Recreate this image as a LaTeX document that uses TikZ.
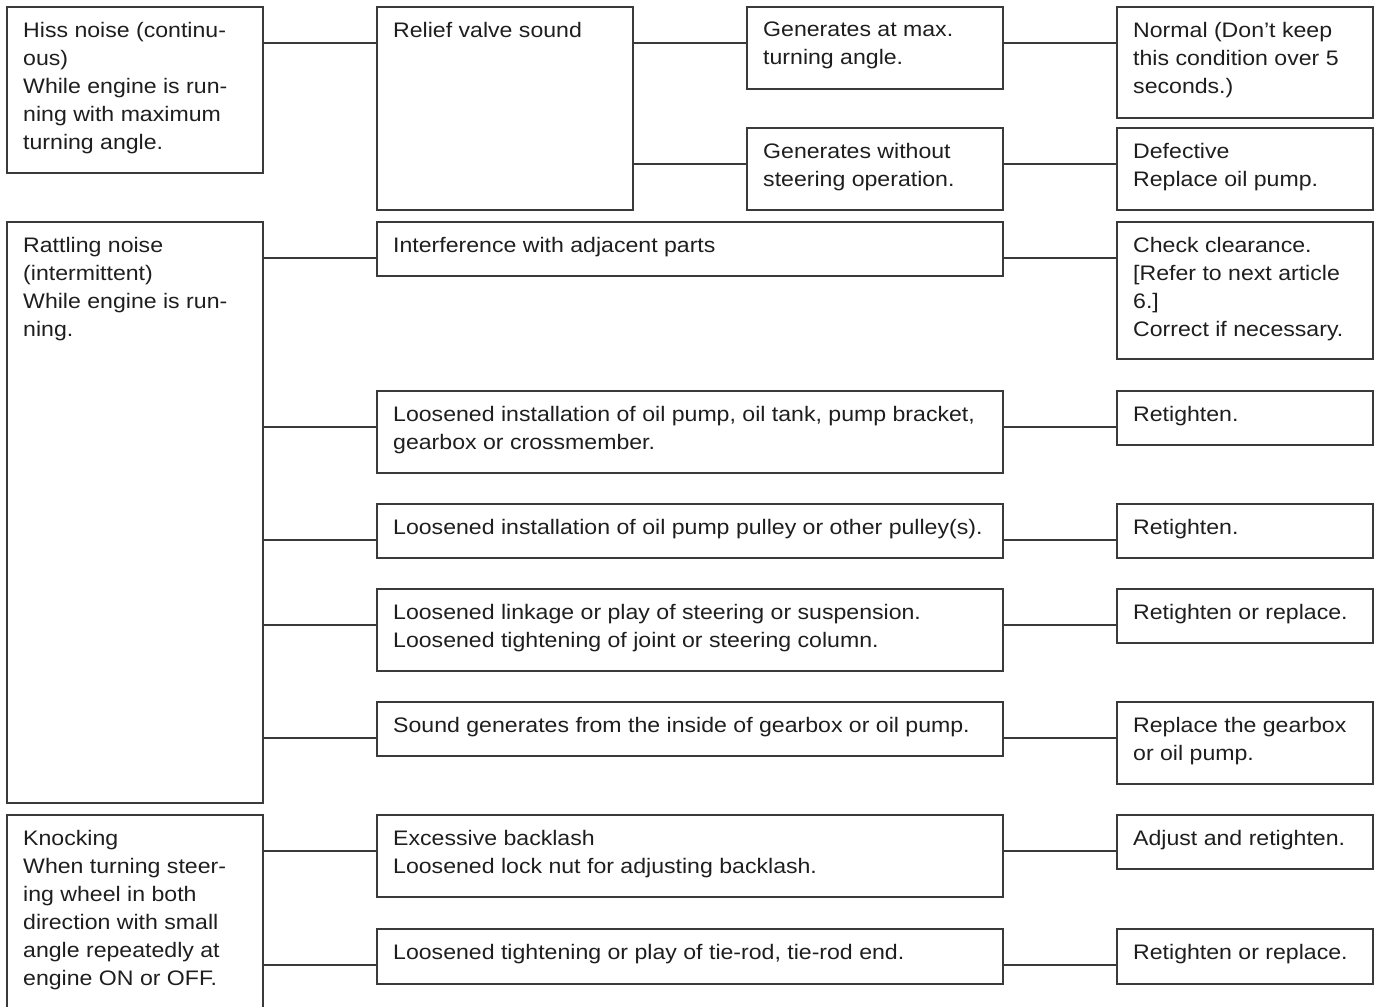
\documentclass[tikz,border=0pt]{standalone}
\usepackage{fontspec}
\setmainfont{Liberation Sans}[FakeStretch=1.1]
\usetikzlibrary{positioning,calc}

\definecolor{linegray}{RGB}{58,58,58}
\definecolor{inkgray}{RGB}{30,30,30}
\newcommand{\boxfont}{\fontsize{21}{28}\selectfont}

\tikzset{
  box/.style={draw=linegray, line width=1.3pt, anchor=north west, inner sep=0pt, outer sep=0pt},
  txt/.style={anchor=north west, inner sep=0pt, align=left, xshift=16pt, yshift=-15pt,
    font=\boxfont, text=inkgray},
  conn/.style={draw=linegray, line width=1.3pt}
}

% line from the side of #1 to the first text line of #2
\newcommand{\link}[2]{%
  \path ([yshift=-36pt]#2.north west) coordinate (#2-in);
  \draw[conn] (#2-in -| #1.east) -- (#2-in);}

\begin{document}
\begin{tikzpicture}[x=1pt, y=-1pt]
  \useasboundingbox (0,0) rectangle (1375,1006);

  % Symptoms
  \node[box, minimum width=256pt, minimum height=166pt,
    label={[txt]north west:Hiss noise (continu-\\ous)\\While engine is run-\\ning with maximum\\turning angle.}] (hiss) at (7,7) {};
  \node[box, minimum width=256pt, minimum height=581pt,
    label={[txt]north west:Rattling noise\\(intermittent)\\While engine is run-\\ning.}] (rattle) at (7,222) {};
  \node[box, minimum width=256pt, minimum height=200pt,
    label={[txt]north west:Knocking\\When turning steer-\\ing wheel in both\\direction with small\\angle repeatedly at\\engine ON or OFF.}] (knock) at (7,815) {};

  % Hiss noise branch
  \node[box, minimum width=256pt, minimum height=203pt,
    label={[txt]north west:Relief valve sound}] (relief) at (377,7) {};
  \node[box, minimum width=256pt, minimum height=82pt,
    label={[txt]north west:Generates at max.\\turning angle.}] (genmax) at (747,7) {};
  \node[box, minimum width=256pt, minimum height=82pt,
    label={[txt]north west:Generates without\\steering operation.}] (genwo) at (747,128) {};
  \node[box, minimum width=256pt, minimum height=111pt,
    label={[txt]north west:Normal (Don’t keep\\this condition over 5\\seconds.)}] (normal) at (1117,7) {};
  \node[box, minimum width=256pt, minimum height=82pt,
    label={[txt]north west:Defective\\Replace oil pump.}] (defect) at (1117,128) {};

  % Rattling noise branch
  \node[box, minimum width=626pt, minimum height=54pt,
    label={[txt]north west:Interference with adjacent parts}] (interf) at (377,222) {};
  \node[box, minimum width=256pt, minimum height=137pt,
    label={[txt]north west:Check clearance.\\{[}Refer to next article\\6.{]}\\Correct if necessary.}] (check) at (1117,222) {};

  \node[box, minimum width=626pt, minimum height=82pt,
    label={[txt]north west:Loosened installation of oil pump, oil tank, pump bracket,\\gearbox or crossmember.}] (install) at (377,391) {};
  \node[box, minimum width=256pt, minimum height=54pt,
    label={[txt]north west:Retighten.}] (retA) at (1117,391) {};

  \node[box, minimum width=626pt, minimum height=54pt,
    label={[txt]north west:Loosened installation of oil pump pulley or other pulley(s).}] (pulley) at (377,504) {};
  \node[box, minimum width=256pt, minimum height=54pt,
    label={[txt]north west:Retighten.}] (retB) at (1117,504) {};

  \node[box, minimum width=626pt, minimum height=82pt,
    label={[txt]north west:Loosened linkage or play of steering or suspension.\\Loosened tightening of joint or steering column.}] (linkage) at (377,589) {};
  \node[box, minimum width=256pt, minimum height=54pt,
    label={[txt]north west:Retighten or replace.}] (retrepA) at (1117,589) {};

  \node[box, minimum width=626pt, minimum height=54pt,
    label={[txt]north west:Sound generates from the inside of gearbox or oil pump.}] (inside) at (377,702) {};
  \node[box, minimum width=256pt, minimum height=82pt,
    label={[txt]north west:Replace the gearbox\\or oil pump.}] (replace) at (1117,702) {};

  % Knocking branch
  \node[box, minimum width=626pt, minimum height=82pt,
    label={[txt]north west:Excessive backlash\\Loosened lock nut for adjusting backlash.}] (backlash) at (377,815) {};
  \node[box, minimum width=256pt, minimum height=54pt,
    label={[txt]north west:Adjust and retighten.}] (adjust) at (1117,815) {};

  \node[box, minimum width=626pt, minimum height=55pt,
    label={[txt]north west:Loosened tightening or play of tie-rod, tie-rod end.}] (tierod) at (377,929) {};
  \node[box, minimum width=256pt, minimum height=55pt,
    label={[txt]north west:Retighten or replace.}] (retrepB) at (1117,929) {};

  % Connectors
  \link{hiss}{relief}
  \link{relief}{genmax}
  \link{relief}{genwo}
  \link{genmax}{normal}
  \link{genwo}{defect}

  \link{rattle}{interf}
  \link{interf}{check}
  \link{rattle}{install}
  \link{install}{retA}
  \link{rattle}{pulley}
  \link{pulley}{retB}
  \link{rattle}{linkage}
  \link{linkage}{retrepA}
  \link{rattle}{inside}
  \link{inside}{replace}

  \link{knock}{backlash}
  \link{backlash}{adjust}
  \link{knock}{tierod}
  \link{tierod}{retrepB}

\end{tikzpicture}
\end{document}
